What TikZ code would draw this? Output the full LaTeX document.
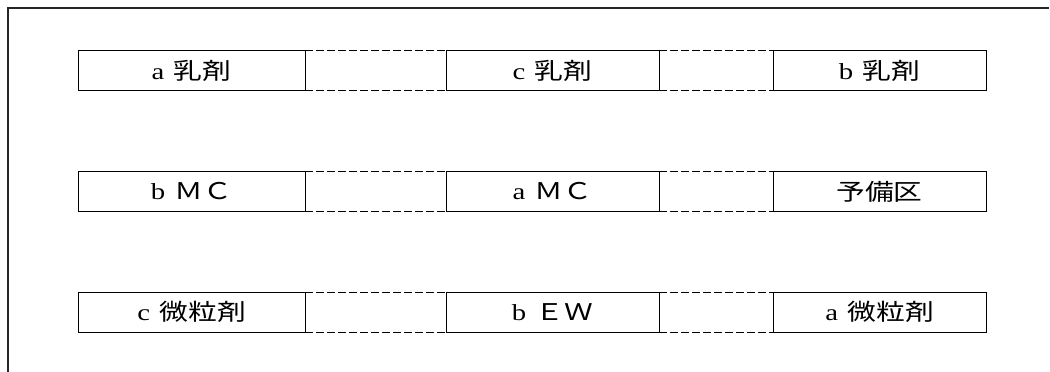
\documentclass[tikz,border=0pt]{standalone}
\usepackage{fontspec}
\setmainfont{Liberation Serif}
\newfontfamily\jp{Noto Sans CJK JP}
\tikzset{
  frameline/.style={line width=1.3pt, black!85},
  plot/.style={draw, line width=1pt, rectangle, inner sep=0pt, outer sep=0pt,
    minimum height=40pt, font=\fontsize{23}{25}\selectfont},
  linkline/.style={line width=1pt, dash pattern=on 7.5pt off 3.5pt},
}
\newcommand{\lbl}[2]{\scalebox{1.25}[1]{#1\hspace{0.33em}{\jp #2}}}
\begin{document}
\begin{tikzpicture}[x=1pt,y=-1pt]
\useasboundingbox (0,0) rectangle (1050,372);
\coordinate (fbl) at (8,372);
\coordinate (ftl) at (8,8);
\coordinate (ftr) at (1049,8);
\draw[frameline] (fbl) -- (ftl) -- (ftr);
% row 1
\node[plot, minimum width=227pt] (a1) at (191.5,70.5) {\lbl{a}{乳剤}};
\node[plot, minimum width=213pt] (b1) at (552.5,70.5) {\lbl{c}{乳剤}};
\node[plot, minimum width=213pt] (c1) at (879.5,70.5) {\lbl{b}{乳剤}};
% row 2
\node[plot, minimum width=227pt] (a2) at (191.5,191.5) {\lbl{b}{ＭＣ}};
\node[plot, minimum width=213pt] (b2) at (552.5,191.5) {\lbl{a}{ＭＣ}};
\node[plot, minimum width=213pt] (c2) at (879.5,191.5) {\scalebox{1.25}[1]{\jp 予備区}};
% row 3
\node[plot, minimum width=227pt] (a3) at (191.5,312) {\lbl{c}{微粒剤}};
\node[plot, minimum width=213pt] (b3) at (552.5,312) {\lbl{b}{ＥＷ}};
\node[plot, minimum width=213pt] (c3) at (879.5,312) {\lbl{a}{微粒剤}};
% dashed links
\foreach \r in {1,2,3}{
  \draw[linkline] (a\r.north east) -- (b\r.north west);
  \draw[linkline] (a\r.south east) -- (b\r.south west);
  \draw[linkline] (b\r.north east) -- (c\r.north west);
  \draw[linkline] (b\r.south east) -- (c\r.south west);
}
\end{tikzpicture}
\end{document}
